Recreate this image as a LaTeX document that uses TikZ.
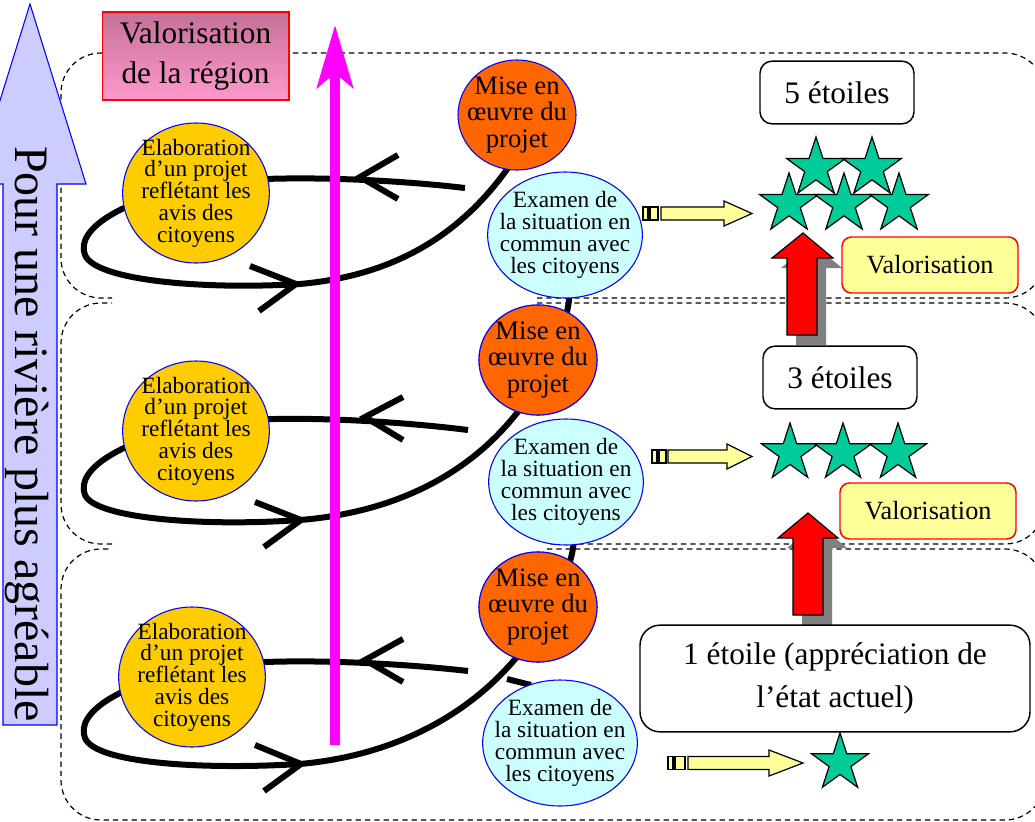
\documentclass[tikz,border=0pt]{standalone}
\usepackage{fontspec}
\setmainfont{Liberation Serif}
\usetikzlibrary{shapes.geometric,arrows.meta}

\definecolor{elabyellow}{RGB}{255,204,0}
\definecolor{miseorange}{RGB}{255,102,0}
\definecolor{examcyan}{RGB}{204,255,255}
\definecolor{lavender}{RGB}{204,204,255}
\definecolor{starteal}{RGB}{0,204,153}
\definecolor{paleyellow}{RGB}{255,255,153}
\definecolor{mauve}{RGB}{196,112,152}
\definecolor{pinklight}{RGB}{255,153,204}
\definecolor{axismagenta}{RGB}{255,0,255}
\definecolor{shadowgray}{RGB}{128,128,128}

\tikzset{
  panel/.style={draw, dash pattern=on 4pt off 3pt, line width=0.9pt, rounded corners=30pt},
  spiral/.style={line width=4.5pt, line join=miter},
  elab/.style={ellipse, draw=blue, line width=0.8pt, fill=elabyellow, minimum width=110pt, minimum height=105pt, inner sep=-30pt, align=center, font=\fontsize{17.5}{16.3}\selectfont},
  mise/.style={ellipse, draw=blue, line width=0.8pt, fill=miseorange, minimum width=88.5pt, minimum height=82.5pt, inner sep=-30pt, align=center, font=\fontsize{20}{20}\selectfont},
  examen/.style={ellipse, draw=blue, line width=0.8pt, fill=examcyan, minimum width=116pt, minimum height=94.5pt, inner sep=-30pt, align=center, font=\fontsize{17.5}{16.7}\selectfont},
  etoiles/.style={draw, rounded corners=9pt, line width=1.1pt, fill=white, minimum width=115.5pt, minimum height=47pt, inner sep=0pt, align=center, font=\fontsize{23.5}{32}\selectfont},
  valo/.style={draw=red, rounded corners=7pt, line width=1.1pt, fill=paleyellow, minimum width=132pt, minimum height=42pt, inner sep=0pt, font=\fontsize{19.7}{24}\selectfont},
  etoile/.style={star, star points=5, star point ratio=2.618, draw, line width=0.9pt, fill=starteal, minimum size=45pt, inner sep=0pt},
  yarrow/.style={draw, fill=paleyellow, line width=0.9pt},
  redarrow/.style={draw, fill=red, line width=0.9pt},
}

\begin{document}
\begin{tikzpicture}[x=0.75pt,y=-0.75pt]

  \useasboundingbox (0,0) rectangle (1035,821);

  % panels
  \draw[panel] (537,298) -- (1045,298) -- (1045,53) -- (61,53) -- (61,298) -- (112,298);
  \draw[panel] (112,544) -- (61,544) -- (61,303) -- (112,303);
  \draw[panel] (537,303) -- (1045,303) -- (1045,544) -- (547,544);
  \draw[panel] (547,549) -- (1045,549) -- (1045,820) -- (61,820) -- (61,549) -- (112,549);

  % spirals
  \draw[spiral] (465,188) .. controls (380,178) and (260,174) .. (200,185)
    .. controls (120,200) and (75,230) .. (85,255)
    .. controls (95,280) and (200,290) .. (300,284)
    .. controls (400,275) and (470,230) .. (520,150);
  \draw[spiral] (398,155) -- (360,177) -- (398,199);
  \draw[spiral] (250,266) -- (296,284) -- (259,311);

  \draw[spiral] (468,430) .. controls (380,419) and (260,414) .. (200,425)
    .. controls (120,440) and (75,470) .. (85,495)
    .. controls (95,518) and (200,527) .. (300,520)
    .. controls (400,512) and (480,470) .. (530,395);
  \draw[spiral] (403,397) -- (365,417) -- (403,440);
  \draw[spiral] (255,502) -- (301,520) -- (264,547);

  \draw[spiral] (468,671) .. controls (380,661) and (260,657) .. (200,668)
    .. controls (120,683) and (75,713) .. (85,738)
    .. controls (95,763) and (200,770) .. (300,764)
    .. controls (400,755) and (480,710) .. (530,640);
  \draw[spiral] (403,639) -- (365,660) -- (403,682);
  \draw[spiral] (255,745) -- (301,764) -- (264,791);
  \draw[spiral] (507,679) -- (531,685);

  % axis
  \coordinate (axisbottom) at (335,745);
  \coordinate (axistop) at (335,25);
  \draw[axismagenta, line width=7.5pt, -{Stealth[length=47pt, width=27pt, inset=11pt]}] (axisbottom) -- (axistop);

  % cycle nodes
  \node[elab] (elab1) at (196,193) {Elaboration\\d’un projet\\reflétant les\\avis des\\citoyens};
  \node[elab] (elab2) at (196,431) {Elaboration\\d’un projet\\reflétant les\\avis des\\citoyens};
  \node[elab] (elab3) at (192,677) {Elaboration\\d’un projet\\reflétant les\\avis des\\citoyens};

  \node[mise] (mise1) at (517,115) {Mise en\\œuvre du\\projet};
  \node[mise] (mise2) at (538,360) {Mise en\\œuvre du\\projet};
  \node[mise] (mise3) at (538,607) {Mise en\\œuvre du\\projet};

  \draw[spiral] (mise2.center) .. controls (572,330) and (575,290) .. (565,235);
  \draw[spiral] (mise3.center) .. controls (575,575) and (582,540) .. (566,482);
  \node[mise] at (mise2) {Mise en\\œuvre du\\projet};
  \node[mise] at (mise3) {Mise en\\œuvre du\\projet};

  \node[examen] (exam1) at (565,235) {Examen de\\la situation en\\commun avec\\les citoyens};
  \node[examen] (exam2) at (566,482) {Examen de\\la situation en\\commun avec\\les citoyens};
  \node[examen] (exam3) at (560,743) {Examen de\\la situation en\\commun avec\\les citoyens};

  % big arrow
  \draw[draw=blue, fill=lavender, line width=0.8pt] (30,4) -- (86,184) -- (57,184) -- (57,725)
    -- (3,725) -- (3,184) -- (-26,184) -- cycle;
  \node[rotate=-90, font=\fontsize{36}{36}\selectfont] (slogan) at (27,434) {Pour une rivière plus agréable};

  \node[draw=red, line width=1pt, top color=mauve, bottom color=pinklight, minimum width=140pt,
    minimum height=66pt, inner sep=0pt, align=center, font=\fontsize{23.5}{30}\selectfont]
    (region) at (195.5,56) {Valorisation\\de la région};

  % yellow arrows
  \draw[yarrow] (643,207) rectangle (648,220);
  \draw[yarrow] (650,207) rectangle (658,220);
  \draw[yarrow] (661,207) -- (724,207) -- (724,201) -- (752,213.5) -- (724,226) -- (724,220) -- (661,220) -- cycle;
  \draw[yarrow] (652,450) rectangle (657,463);
  \draw[yarrow] (659,450) rectangle (666,463);
  \draw[yarrow] (668,450) -- (727,450) -- (727,444) -- (752,456.5) -- (727,469) -- (727,463) -- (668,463) -- cycle;
  \draw[yarrow] (668,756.5) rectangle (673,769.5);
  \draw[yarrow] (675,756.5) rectangle (685,769.5);
  \draw[yarrow] (688,756.5) -- (769,756.5) -- (769,750) -- (803,763) -- (769,776) -- (769,769.5) -- (688,769.5) -- cycle;

  % stars
  \node[etoile, minimum size=46.5pt] (s5d) at (816,168) {};
  \node[etoile, minimum size=46.5pt] (s5e) at (872,168) {};
  \node[etoile, minimum size=46.5pt] (s5a) at (789,204) {};
  \node[etoile, minimum size=46.5pt] (s5b) at (844,204) {};
  \node[etoile, minimum size=46.5pt] (s5c) at (899,204) {};
  \node[etoile] (s3a) at (790,453) {};
  \node[etoile] (s3b) at (843,453) {};
  \node[etoile] (s3c) at (898,453) {};
  \node[etoile] (s1) at (840,763) {};

  % red arrows
  \fill[shadowgray] (796,345) -- (796,268) -- (781,268) -- (812,243) -- (842,268) -- (826,268) -- (826,345) -- cycle;
  \draw[redarrow] (787,335) -- (787,258) -- (772,258) -- (803,233) -- (833,258) -- (817,258) -- (817,335) -- cycle;
  \fill[shadowgray] (802,625) -- (802,548) -- (787,548) -- (817,523) -- (847,548) -- (832,548) -- (832,625) -- cycle;
  \draw[redarrow] (793,615) -- (793,538) -- (778,538) -- (808,513) -- (838,538) -- (823,538) -- (823,615) -- cycle;

  % labels
  \node[etoiles] (five) at (837,92.5) {5 étoiles};
  \node[etoiles] (three) at (840,377.5) {3 étoiles};
  \node[etoiles, rounded corners=15pt, minimum width=292.5pt, minimum height=80pt] (one) at (835,678.5)
    {1 étoile (appréciation de\\l’état actuel)};
  \node[valo] (valo1) at (930,265) {Valorisation};
  \node[valo] (valo2) at (928,511) {Valorisation};

\end{tikzpicture}
\end{document}
